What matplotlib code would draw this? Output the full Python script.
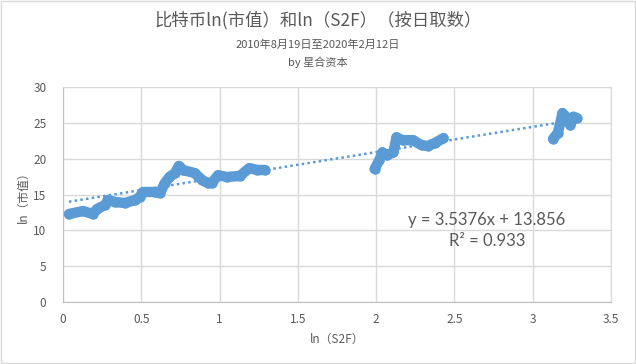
import matplotlib
matplotlib.use("Agg")
import matplotlib.pyplot as plt
from matplotlib.patches import Rectangle
import numpy as np

plt.rcParams['font.family'] = ['Noto Sans CJK SC', 'DejaVu Sans']

# Data (ln(S2F), ln(market cap))
seg1_x = [0.038, 0.128, 0.19, 0.217, 0.268, 0.287, 0.332, 0.396, 0.46, 0.49, 0.51, 0.587,
          0.62, 0.65, 0.68, 0.715, 0.74, 0.766, 0.84, 0.89, 0.926, 0.95, 0.99, 1.047,
          1.13, 1.19, 1.24, 1.29]
seg1_y = [12.27, 12.69, 12.27, 12.97, 13.53, 14.23, 13.95, 13.81, 14.23, 14.65, 15.35, 15.35,
          15.21, 16.6, 17.45, 18.0, 19.0, 18.43, 18.0, 17.0, 16.6, 16.6, 17.7, 17.45,
          17.6, 18.7, 18.43, 18.43]
seg2_x = [1.99, 2.02, 2.04, 2.07, 2.11, 2.13, 2.17, 2.235, 2.29, 2.33, 2.375, 2.43]
seg2_y = [18.57, 19.8, 20.9, 20.5, 20.9, 23.0, 22.6, 22.6, 21.9, 21.8, 22.2, 22.9]
seg3_x = [3.13, 3.16, 3.18, 3.19, 3.22, 3.24, 3.26, 3.28]
seg3_y = [22.8, 23.6, 25.4, 26.4, 25.7, 24.7, 25.9, 25.7]

slope = 3.5376
intercept = 13.856
r2 = 0.933

title = "比特币ln(市值）和ln（S2F）（按日取数）"
subtitle1 = "2010年8月19日至2020年2月12日"
subtitle2 = "by 星合资本"
xlabel = "ln（S2F）"
ylabel = "ln（市值）"

blue = "#5B9BD5"
txt = "#595959"
grid = "#D9D9D9"

fig = plt.figure(figsize=(6.36, 3.64), dpi=100)
fig.patches.append(Rectangle((0.002, 0.003), 0.996, 0.994, transform=fig.transFigure,
                             fill=False, edgecolor=grid, linewidth=1))
ax = fig.add_axes([63/636, (364-301.7)/364, (611-63)/636, (301.7-87.3)/364])

for xs, ys in [(seg1_x, seg1_y), (seg2_x, seg2_y), (seg3_x, seg3_y)]:
    ax.plot(xs, ys, color=blue, linewidth=7.5, solid_capstyle='round',
            solid_joinstyle='round', marker='o', markersize=7.5, markeredgewidth=0, zorder=3)

allx = seg1_x + seg2_x + seg3_x
tx = np.array([min(allx), max(allx)])
ax.plot(tx, slope * tx + intercept, color=blue, linestyle=(0, (1, 1.3)), linewidth=1.8, zorder=4)

ax.set_xlim(0, 3.5)
ax.set_ylim(0, 30)
ax.set_xticks(np.arange(0, 3.51, 0.5))
ax.set_xticklabels(["0", "0.5", "1", "1.5", "2", "2.5", "3", "3.5"])
ax.set_yticks(range(0, 31, 5))
ax.grid(True, color=grid, linewidth=1)
ax.set_axisbelow(True)
for s in ['top', 'right']:
    ax.spines[s].set_color(grid)
for s in ['left', 'bottom']:
    ax.spines[s].set_color("#BFBFBF")
ax.tick_params(axis='both', length=0, labelsize=8.5, colors=txt, pad=8)
ax.tick_params(axis='y', pad=12)

ax.set_xlabel(xlabel, fontsize=8.5, color=txt, labelpad=5)
ax.set_ylabel(ylabel, fontsize=8.5, color=txt)
ax.yaxis.set_label_coords((30 - 63) / (611 - 63), 0.5)

fig.text(0.5, 1 - 20/364, title, ha='center', va='center', fontsize=12.5, color=txt)
fig.text(0.5, 1 - 45/364, subtitle1, ha='center', va='center', fontsize=8, color=txt)
fig.text(0.5, 1 - 62/364, subtitle2, ha='center', va='center', fontsize=8, color=txt)

fig.text(487/636, 1 - 220/364, "y = %.4fx + %.3f" % (slope, intercept),
         ha='center', va='center', fontsize=12, color=txt, family=['Lato', 'DejaVu Sans'])
fig.text(487/636, 1 - 241/364, "R² = %.3f" % r2,
         ha='center', va='center', fontsize=12, color=txt, family=['Lato', 'DejaVu Sans'])

fig.savefig("out.png", dpi=100)
